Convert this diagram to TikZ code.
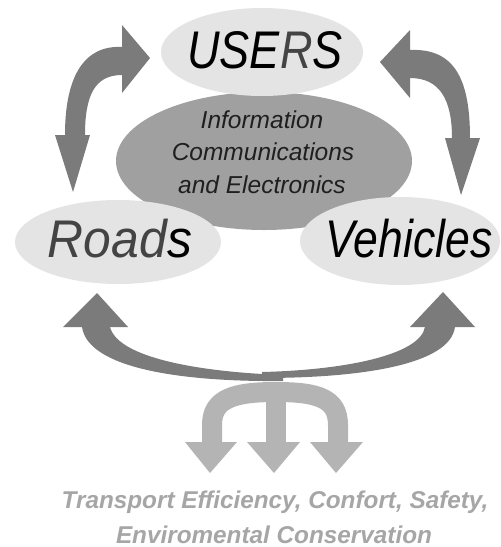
\documentclass[tikz,border=0pt]{standalone}
\usepackage{fontspec}
\setmainfont{Liberation Sans}
\usepackage{graphicx}
\usetikzlibrary{shapes.geometric}
\definecolor{lightell}{HTML}{E4E4E4}
\definecolor{midell}{HTML}{A0A0A0}
\definecolor{darkarrow}{HTML}{7B7B7B}
\definecolor{lightarrow}{HTML}{B4B4B4}
\definecolor{outtext}{HTML}{A6A6A6}
\definecolor{wordgray}{HTML}{444444}
\begin{document}
\begin{tikzpicture}[x=1pt,y=-1pt,
  ell/.style={ellipse, draw=none, inner sep=0pt},
  bigword/.style={anchor=base, inner sep=0pt, font=\fontsize{53}{60}\selectfont\itshape},
  midword/.style={anchor=base, inner sep=0pt, text=black!88, font=\fontsize{24.5}{28}\selectfont\itshape},
  outword/.style={anchor=base, inner sep=0pt, text=outtext, font=\fontsize{24.3}{28}\selectfont\bfseries\itshape},
  darkfill/.style={fill=darkarrow, draw=none},
  lightstroke/.style={draw=lightarrow, line width=20pt},
  lightfill/.style={fill=lightarrow, draw=none}]
\useasboundingbox (0,0) rectangle (501,547);
\fill[white] (0,0) rectangle (501,547);

% ellipses
\node[ell, fill=midell, minimum width=296pt, minimum height=138pt] (ice) at (264,161) {};
\node[ell, fill=lightell, minimum width=202pt, minimum height=88pt] (users) at (262,52) {};
\node[ell, fill=lightell, minimum width=206pt, minimum height=84pt] (roads) at (118,242) {};
\node[ell, fill=lightell, minimum width=200pt, minimum height=88pt] (vehicles) at (400,241) {};

% top-left double arrow
\fill[darkfill] (122,47) .. controls (85,45) and (65,75) .. (65,135)
  -- (85,135) .. controls (85,95) and (95,75) .. (122,75) -- cycle;
\fill[darkfill] (122,25) -- (150,58) -- (122,93) -- cycle;
\fill[darkfill] (55,135) -- (90,135) -- (73,192) -- cycle;

% top-right double arrow
\fill[darkfill] (410,50) .. controls (455,48) and (470,80) .. (470,138)
  -- (452,138) .. controls (452,100) and (440,78) .. (410,78) -- cycle;
\fill[darkfill] (410,30) -- (380,62) -- (410,98) -- cycle;
\fill[darkfill] (445,138) -- (480,138) -- (461,195) -- cycle;

% light triple arrow
\draw[lightstroke] (212,443) -- (212,425) .. controls (212,398) and (235,392) .. (276,392);
\draw[lightstroke] (338,443) -- (338,425) .. controls (338,398) and (317,392) .. (276,392);
\draw[lightstroke] (276,385) -- (276,443);
\fill[lightfill] (185,442) -- (237,442) -- (210,473) -- cycle;
\fill[lightfill] (247,442) -- (300,442) -- (274,473) -- cycle;
\fill[lightfill] (310,442) -- (363,442) -- (336,473) -- cycle;

% bottom dark double arrow
\fill[darkfill] (82,327) .. controls (88,368) and (180,382) .. (283,381)
  -- (283,375) .. controls (200,372) and (118,358) .. (110,327) -- cycle;
\fill[darkfill] (63,327) -- (97,293) -- (128,327) -- cycle;
\fill[darkfill] (455,327) .. controls (450,365) and (360,378) .. (262,378)
  -- (262,372) .. controls (345,370) and (420,355) .. (425,327) -- cycle;
\fill[darkfill] (410,327) -- (443,292) -- (475,327) -- cycle;

% texts
\node[bigword] (tusers) at (265,68) {\scalebox{0.85}[1]{USE{\color{wordgray}R}S}};
\node[bigword] (troads) at (120,257) {\scalebox{0.94}[1]{{\color{wordgray}Road}s}};
\node[bigword] (tveh) at (409,257) {\scalebox{0.84}[1]{Vehicles}};
\node[midword] (l1) at (262,128) {Information};
\node[midword] (l2) at (263,160) {Communications};
\node[midword] (l3) at (262,193) {and Electronics};
\node[outword] (o1) at (275,508) {Transport Efficiency, Confort, Safety,};
\node[outword] (o2) at (274,543) {Enviromental Conservation};
\end{tikzpicture}
\end{document}
